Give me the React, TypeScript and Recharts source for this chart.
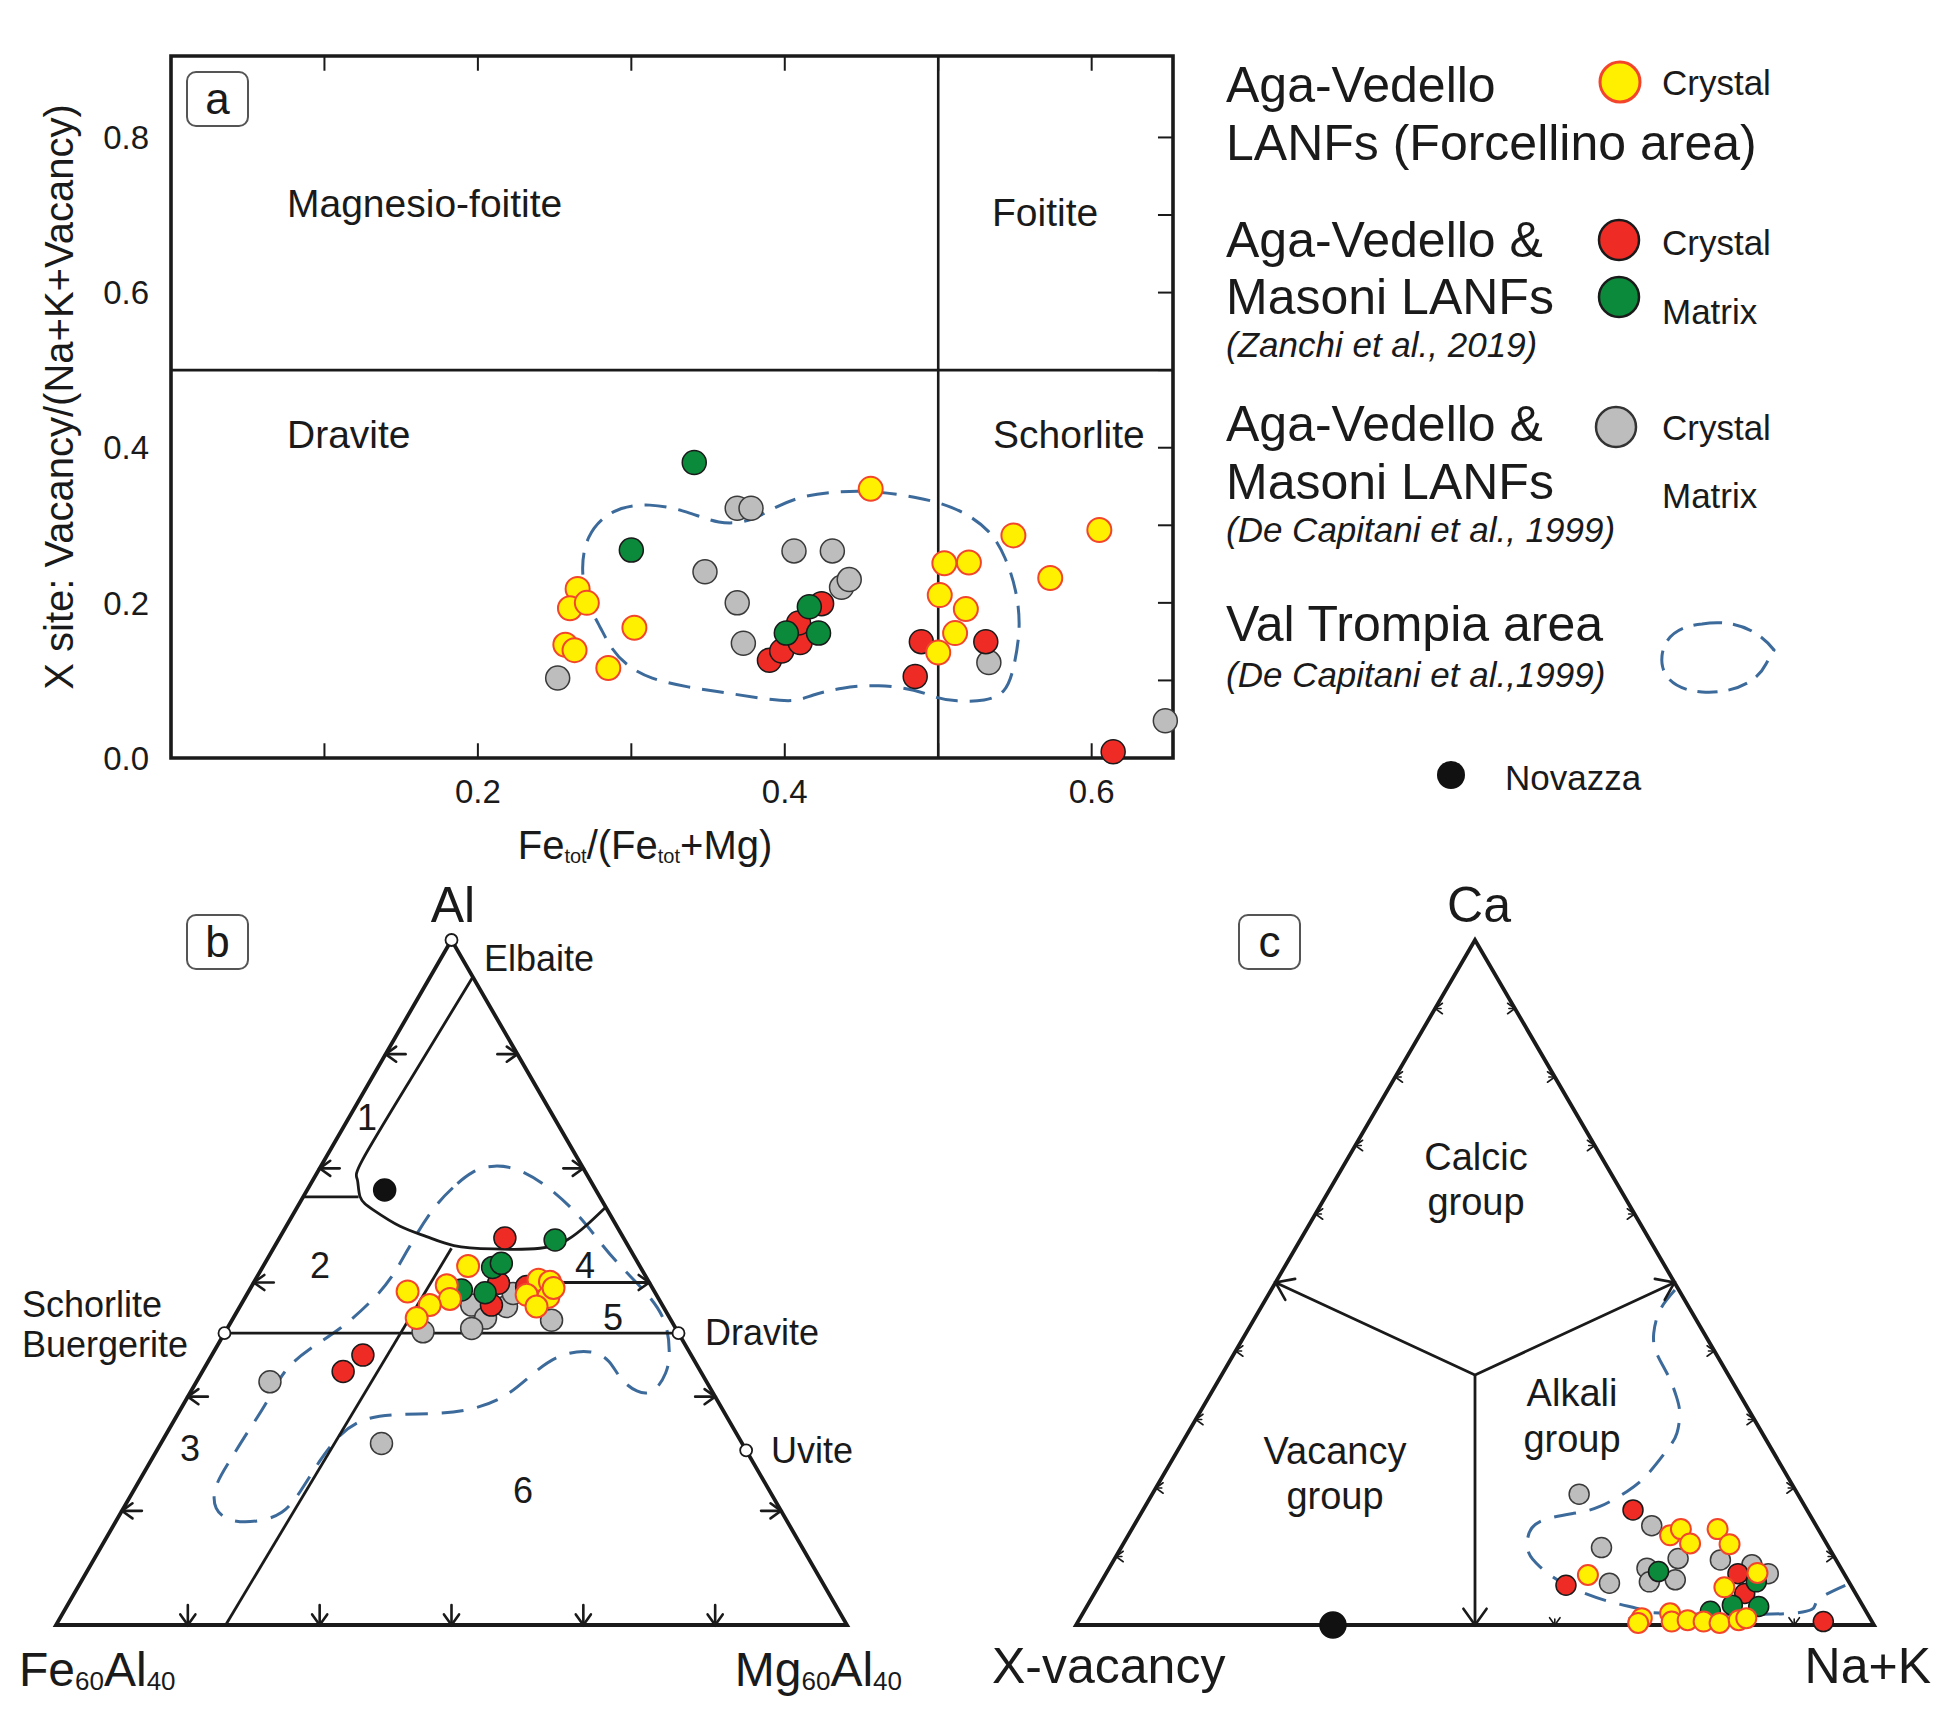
import React from 'react';
import { ComposedChart, Scatter, Line, XAxis, YAxis, ReferenceLine, ReferenceArea } from 'recharts';

const FONT = '"Liberation Sans", Arial, Helvetica, sans-serif';
const H = Math.sqrt(3) / 2;
const INK = '#1a1a1a';
const FIELD = '#3c6a9a';

const YELLOW = '#fff000';
const YELLOW_EDGE = '#f2452b';
const RED = '#ee2c25';
const GREEN = '#0c8a3b';
const GRAY = '#bdbdbd';

// ---- panel a: Fe_tot/(Fe_tot+Mg) vs X-site vacancy ----
const aXTicks = [0.2, 0.4, 0.6];
const aYTicks = [0, 0.2, 0.4, 0.6, 0.8];
const aMinorX = [0.1, 0.2, 0.3, 0.4, 0.5, 0.6];
const aMinorY = [0.1, 0.2, 0.3, 0.4, 0.5, 0.6, 0.7, 0.8];

const aYellow = [
  [0.456, 0.347], [0.265, 0.218], [0.26, 0.193], [0.271, 0.2], [0.302, 0.168], [0.257, 0.146],
  [0.263, 0.139], [0.285, 0.116], [0.504, 0.251], [0.52, 0.252], [0.501, 0.21], [0.518, 0.192],
  [0.511, 0.161], [0.5, 0.136], [0.549, 0.287], [0.573, 0.232], [0.605, 0.294],
];
const aRed = [
  [0.39, 0.126], [0.398, 0.138], [0.41, 0.149], [0.409, 0.174], [0.424, 0.199],
  [0.489, 0.15], [0.485, 0.105], [0.531, 0.15], [0.614, 0.008],
];
const aGreen = [[0.341, 0.381], [0.3, 0.268], [0.416, 0.195], [0.401, 0.161], [0.422, 0.161]];
const aGray = [
  [0.369, 0.322], [0.378, 0.322], [0.406, 0.267], [0.431, 0.267], [0.348, 0.24], [0.369, 0.2],
  [0.373, 0.148], [0.437, 0.22], [0.442, 0.23], [0.252, 0.103], [0.533, 0.123], [0.648, 0.048],
];
const aField = [
  [0.267, 0.238], [0.27, 0.287], [0.287, 0.322], [0.312, 0.329], [0.337, 0.318], [0.357, 0.301],
  [0.377, 0.304], [0.392, 0.322], [0.412, 0.339], [0.437, 0.344], [0.461, 0.344], [0.486, 0.336],
  [0.501, 0.329], [0.516, 0.318], [0.534, 0.294], [0.544, 0.259], [0.551, 0.217], [0.554, 0.168],
  [0.549, 0.112], [0.544, 0.084], [0.531, 0.073], [0.511, 0.073], [0.499, 0.077], [0.486, 0.088],
  [0.461, 0.095], [0.437, 0.091], [0.417, 0.081], [0.407, 0.072], [0.387, 0.076], [0.362, 0.084],
  [0.337, 0.091], [0.312, 0.102], [0.297, 0.119], [0.287, 0.14], [0.28, 0.168], [0.272, 0.196],
];

// ---- panel b: Al - Fe60Al40 - Mg60Al40, values as [Al, Mg] fractions ----
const bTickFr = [1 / 6, 2 / 6, 3 / 6, 4 / 6, 5 / 6];
const bTriangle = [[1, 0], [0, 0], [0, 1]];
const bCurve1 = [
  [0.946, 0.054], [0.796, 0.05], [0.679, 0.048], [0.65, 0.056], [0.625, 0.072], [0.606, 0.098],
  [0.582, 0.144], [0.567, 0.185], [0.554, 0.226], [0.549, 0.278], [0.55, 0.337], [0.562, 0.365],
  [0.584, 0.379], [0.61, 0.39],
];
const bStub = [[0.625, 0], [0.625, 0.07]];
const bInner = [[0.55, 0.225], [0, 0.2145]];
const bSchorlDravite = [[0.426, 0], [0.426, 0.574]];
const bLine45 = [[0.5, 0.387], [0.5, 0.5]];
const bEndMembers = [[1, 0], [0.426, 0], [0.426, 0.574], [0.255, 0.745]];
const bYellow = [
  [0.524, 0.259], [0.487, 0.201], [0.496, 0.246], [0.476, 0.26], [0.467, 0.239], [0.448, 0.232],
  [0.504, 0.358], [0.501, 0.374], [0.482, 0.354], [0.479, 0.383], [0.465, 0.375], [0.492, 0.383],
];
const bRed = [[0.565, 0.285], [0.499, 0.31], [0.467, 0.317], [0.494, 0.348], [0.394, 0.191], [0.37, 0.178]];
const bGreen = [[0.562, 0.35], [0.522, 0.291], [0.528, 0.299], [0.489, 0.268], [0.485, 0.3]];
const bGray = [
  [0.467, 0.292], [0.448, 0.319], [0.433, 0.309], [0.428, 0.25], [0.465, 0.337], [0.484, 0.336],
  [0.445, 0.404], [0.265, 0.279], [0.355, 0.093],
];
const bNovazza = [[0.635, 0.098]];
const bField = [
  [0.664, 0.195], [0.639, 0.182], [0.61, 0.172], [0.562, 0.17], [0.508, 0.172], [0.475, 0.164],
  [0.431, 0.144], [0.402, 0.117], [0.372, 0.101], [0.324, 0.105], [0.28, 0.101], [0.241, 0.1],
  [0.202, 0.098], [0.168, 0.115], [0.15, 0.145], [0.15, 0.179], [0.161, 0.207], [0.193, 0.212],
  [0.241, 0.213], [0.28, 0.219], [0.302, 0.237], [0.308, 0.272], [0.308, 0.332], [0.314, 0.37],
  [0.333, 0.404], [0.368, 0.419], [0.397, 0.439], [0.402, 0.478], [0.387, 0.507], [0.358, 0.534],
  [0.339, 0.565], [0.336, 0.587], [0.368, 0.589], [0.397, 0.578], [0.445, 0.55], [0.485, 0.505],
  [0.523, 0.452], [0.558, 0.409], [0.596, 0.365], [0.635, 0.311], [0.667, 0.253], [0.672, 0.217],
];

// ---- panel c: Ca - X-vacancy - Na+K, values as [Ca, Na+K] fractions ----
const cTickFr = [0.1, 0.2, 0.3, 0.4, 0.6, 0.7, 0.8, 0.9];
const cBaseTickFr = [0.6, 0.7, 0.8, 0.9];
const cTriangle = [[1, 0], [0, 0], [0, 1]];
const cCenter = [0.365, 0.3175];
const cDividers = [[0.5, 0], [0.365, 0.3175], [0.5, 0.5]];
const cStem = [[0.365, 0.3175], [0, 0.5]];
const cArrowTips = [[0.5, 0], [0.5, 0.5], [0, 0.5]];
const cYellow = [
  [0.131, 0.679], [0.14, 0.688], [0.119, 0.71], [0.14, 0.734], [0.118, 0.76], [0.076, 0.816],
  [0.055, 0.785], [0.073, 0.605], [0.01, 0.704], [0.003, 0.703], [0.017, 0.736], [0.005, 0.744],
  [0.007, 0.763], [0.005, 0.784], [0.003, 0.805], [0.007, 0.827], [0.01, 0.835],
];
const cRed = [[0.168, 0.614], [0.075, 0.792], [0.046, 0.815], [0.058, 0.585], [0.005, 0.934]];
const cGreen = [[0.078, 0.691], [0.063, 0.821], [0.02, 0.785], [0.029, 0.808], [0.027, 0.842]];
const cGray = [
  [0.191, 0.535], [0.145, 0.649], [0.113, 0.602], [0.097, 0.706], [0.083, 0.674], [0.063, 0.687],
  [0.066, 0.718], [0.095, 0.76], [0.088, 0.803], [0.075, 0.83], [0.061, 0.638],
];
const cNovazza = [[0, 0.322]];
const cField = [
  [0.489, 0.506], [0.46, 0.502], [0.426, 0.511], [0.397, 0.529], [0.363, 0.561], [0.333, 0.586],
  [0.309, 0.602], [0.28, 0.613], [0.256, 0.613], [0.219, 0.606], [0.195, 0.593], [0.173, 0.57],
  [0.163, 0.542], [0.151, 0.506], [0.129, 0.502], [0.105, 0.515], [0.085, 0.539], [0.058, 0.586],
  [0.034, 0.652], [0.023, 0.695], [0.017, 0.732], [0.017, 0.886], [0.034, 0.911], [0.058, 0.935],
];

const pts = (arr: number[][]) => arr.map(([x, y]) => ({ x, y }));
const tern = (a: number, m: number) => ({ x: m + a / 2, y: a * H });
const tpts = (arr: number[][]) => arr.map(([a, m]) => tern(a, m));

const dot = (fill: string, stroke: string, r: number, sw = 1.5) => (p: any) => (
  <circle cx={p.cx} cy={p.cy} r={r} fill={fill} stroke={stroke} strokeWidth={sw} />
);

// arrow tick: tip on the point, pointing along payload.ang (screen radians)
const arrow = (stub: number, wing: number, sw: number) => (p: any) => {
  const ang = p.payload.ang;
  const bx = -Math.cos(ang);
  const by = -Math.sin(ang);
  const rot = (t: number) => [bx * Math.cos(t) - by * Math.sin(t), bx * Math.sin(t) + by * Math.cos(t)];
  const [w1x, w1y] = rot(0.62);
  const [w2x, w2y] = rot(-0.62);
  return (
    <g stroke={INK} strokeWidth={sw} fill="none" strokeLinecap="round">
      {stub > 0 && <line x1={p.cx} y1={p.cy} x2={p.cx + bx * stub} y2={p.cy + by * stub} />}
      <polyline points={`${p.cx + w1x * wing},${p.cy + w1y * wing} ${p.cx},${p.cy} ${p.cx + w2x * wing},${p.cy + w2y * wing}`} />
    </g>
  );
};

const edgeTicks = (fr: number[], base: number[]) => [
  ...fr.map((t) => ({ ...tern(t, 0), ang: Math.PI })),
  ...fr.map((t) => ({ ...tern(t, 1 - t), ang: 0 })),
  ...base.map((t) => ({ ...tern(0, t), ang: Math.PI / 2 })),
];

const cArrowPts = cArrowTips.map(([a, m]) => {
  const t = tern(a, m);
  const c = tern(cCenter[0], cCenter[1]);
  return { ...t, ang: Math.atan2(-(t.y - c.y), t.x - c.x) };
});

const lineProps = { dot: false, activeDot: false, isAnimationActive: false, dataKey: 'y', legendType: 'none' as const };

function PanelA() {
  const tx = 0.0098;
  const ty = 0.019;
  return (
    <ComposedChart width={1200} height={880} margin={{ top: 56, right: 27, left: 111, bottom: 92 }}>
      <XAxis type="number" dataKey="x" domain={[0, 0.653]} ticks={aXTicks} height={30} axisLine={false} tickLine={false}
        tickSize={0} tickMargin={22} tick={{ fontSize: 33, fill: INK, fontFamily: FONT }} />
      <YAxis type="number" dataKey="y" domain={[0, 0.905]} ticks={aYTicks} width={60} axisLine={false} tickLine={false}
        tickSize={0} tickMargin={22} tick={{ fontSize: 33, fill: INK, fontFamily: FONT }} tickFormatter={(v) => v.toFixed(1)} />
      <ReferenceArea x1={0} x2={0.653} y1={0} y2={0.905} fill="none" stroke={INK} strokeWidth={3.6} fillOpacity={0} />
      <ReferenceLine x={0.5} stroke={INK} strokeWidth={2.6} />
      <ReferenceLine y={0.5} stroke={INK} strokeWidth={2.6} />
      {aMinorX.map((t) => (
        <ReferenceLine key={'xb' + t} segment={[{ x: t, y: 0 }, { x: t, y: ty }]} stroke={INK} strokeWidth={2} />
      ))}
      {aMinorX.map((t) => (
        <ReferenceLine key={'xt' + t} segment={[{ x: t, y: 0.905 }, { x: t, y: 0.905 - ty }]} stroke={INK} strokeWidth={2} />
      ))}
      {aMinorY.map((t) => (
        <ReferenceLine key={'yr' + t} segment={[{ x: 0.653 - tx, y: t }, { x: 0.653, y: t }]} stroke={INK} strokeWidth={2} />
      ))}
      <Line data={pts(aField)} type="basisClosed" stroke={FIELD} strokeWidth={3} strokeDasharray="22 12" {...lineProps} />
      <Scatter data={pts(aGray)} shape={dot(GRAY, '#3a3a3a', 12)} isAnimationActive={false} />
      <Scatter data={pts(aRed)} shape={dot(RED, '#1a1a1a', 12)} isAnimationActive={false} />
      <Scatter data={pts(aGreen)} shape={dot(GREEN, '#1a1a1a', 12)} isAnimationActive={false} />
      <Scatter data={pts(aYellow)} shape={dot(YELLOW, YELLOW_EDGE, 12, 2)} isAnimationActive={false} />
    </ComposedChart>
  );
}

function PanelB() {
  return (
    <ComposedChart width={960} height={877} margin={{ top: 90, right: 113, left: 56, bottom: 102 }}>
      <XAxis type="number" dataKey="x" domain={[0, 1]} hide />
      <YAxis type="number" dataKey="y" domain={[0, H]} hide />
      <Line data={tpts(bField)} type="basisClosed" stroke={FIELD} strokeWidth={3} strokeDasharray="22 14" {...lineProps} />
      <Line data={tpts(bTriangle)} type="linearClosed" stroke={INK} strokeWidth={3.8} {...lineProps} />
      <Line data={tpts(bCurve1)} type="natural" stroke={INK} strokeWidth={2.8} {...lineProps} />
      <Line data={tpts(bStub)} type="linear" stroke={INK} strokeWidth={2.8} {...lineProps} />
      <Line data={tpts(bInner)} type="linear" stroke={INK} strokeWidth={2.8} {...lineProps} />
      <Line data={tpts(bSchorlDravite)} type="linear" stroke={INK} strokeWidth={2.8} {...lineProps} />
      <Line data={tpts(bLine45)} type="linear" stroke={INK} strokeWidth={2.8} {...lineProps} />
      <Scatter data={edgeTicks(bTickFr, bTickFr)} shape={arrow(20, 13, 2.6)} isAnimationActive={false} />
      <Scatter data={tpts(bGray)} shape={dot(GRAY, '#3a3a3a', 11)} isAnimationActive={false} />
      <Scatter data={tpts(bRed)} shape={dot(RED, '#1a1a1a', 11)} isAnimationActive={false} />
      <Scatter data={tpts(bGreen)} shape={dot(GREEN, '#1a1a1a', 11)} isAnimationActive={false} />
      <Scatter data={tpts(bYellow)} shape={dot(YELLOW, YELLOW_EDGE, 11, 2)} isAnimationActive={false} />
      <Scatter data={tpts(bNovazza)} shape={dot('#111', '#111', 11)} isAnimationActive={false} />
      <Scatter data={tpts(bEndMembers)} shape={dot('#fff', INK, 6, 1.8)} isAnimationActive={false} />
    </ComposedChart>
  );
}

function PanelC() {
  return (
    <ComposedChart width={977} height={877} margin={{ top: 90, right: 83, left: 96, bottom: 102 }}>
      <XAxis type="number" dataKey="x" domain={[0, 1]} hide />
      <YAxis type="number" dataKey="y" domain={[0, H]} hide />
      <Line data={tpts(cField)} type="natural" stroke={FIELD} strokeWidth={3} strokeDasharray="22 14" {...lineProps} />
      <Line data={tpts(cTriangle)} type="linearClosed" stroke={INK} strokeWidth={3.8} {...lineProps} />
      <Line data={tpts(cDividers)} type="linear" stroke={INK} strokeWidth={2.8} {...lineProps} />
      <Line data={tpts(cStem)} type="linear" stroke={INK} strokeWidth={2.8} {...lineProps} />
      <Scatter data={edgeTicks(cTickFr, cBaseTickFr)} shape={arrow(6, 9, 1.6)} isAnimationActive={false} />
      <Scatter data={cArrowPts} shape={arrow(0, 20, 2.6)} isAnimationActive={false} />
      <Scatter data={tpts(cGray)} shape={dot(GRAY, '#3a3a3a', 10)} isAnimationActive={false} />
      <Scatter data={tpts(cRed)} shape={dot(RED, '#1a1a1a', 10)} isAnimationActive={false} />
      <Scatter data={tpts(cGreen)} shape={dot(GREEN, '#1a1a1a', 10)} isAnimationActive={false} />
      <Scatter data={tpts(cYellow)} shape={dot(YELLOW, YELLOW_EDGE, 10, 2)} isAnimationActive={false} />
      <Scatter data={tpts(cNovazza)} shape={dot('#111', '#111', 13)} isAnimationActive={false} />
    </ComposedChart>
  );
}

function T({ x, y, size = 36, anchor = 'start', italic = false, children }: any) {
  return (
    <text x={x} y={y} fontSize={size} textAnchor={anchor} dominantBaseline="central" fill={INK}
      fontFamily={FONT} fontStyle={italic ? 'italic' : 'normal'}>
      {children}
    </text>
  );
}

function Tag({ x, y, label }: any) {
  return (
    <g>
      <rect x={x} y={y} width={61} height={54} rx={9} fill="#fff" stroke="#555" strokeWidth={2} />
      <T x={x + 30.5} y={y + 26} size={44} anchor="middle">{label}</T>
    </g>
  );
}

function Overlay() {
  return (
    <svg width={1957} height={1727} style={{ position: 'absolute', left: 0, top: 0, pointerEvents: 'none' }}>
      {/* panel a titles */}
      <text x={59} y={397} fontSize={40} textAnchor="middle" dominantBaseline="central" fill={INK} fontFamily={FONT}
        transform="rotate(-90 59 397)">X site: Vacancy/(Na+K+Vacancy)</text>
      <text x={645} y={845} fontSize={40} textAnchor="middle" dominantBaseline="central" fill={INK} fontFamily={FONT}>
        Fe<tspan fontSize={20} dy={11}>tot</tspan><tspan dy={-11}>/(Fe</tspan><tspan fontSize={20} dy={11}>tot</tspan>
        <tspan dy={-11}>+Mg)</tspan>
      </text>
      <Tag x={187} y={72} label="a" />
      <T x={287} y={203} size={39}>Magnesio-foitite</T>
      <T x={992} y={212} size={39}>Foitite</T>
      <T x={287} y={434} size={39}>Dravite</T>
      <T x={993} y={434} size={39}>Schorlite</T>

      {/* legend */}
      <T x={1226} y={85} size={50}>Aga-Vedello</T>
      <T x={1226} y={143} size={50}>LANFs (Forcellino area)</T>
      <circle cx={1620} cy={82} r={20} fill={YELLOW} stroke={YELLOW_EDGE} strokeWidth={3} />
      <T x={1662} y={82} size={35}>Crystal</T>

      <T x={1226} y={240} size={50}>Aga-Vedello &amp;</T>
      <T x={1226} y={297} size={50}>Masoni LANFs</T>
      <T x={1226} y={344} size={35} italic>(Zanchi et al., 2019)</T>
      <circle cx={1619} cy={240} r={20} fill={RED} stroke="#1a1a1a" strokeWidth={2.5} />
      <T x={1662} y={242} size={35}>Crystal</T>
      <circle cx={1619} cy={297} r={20} fill={GREEN} stroke="#1a1a1a" strokeWidth={2.5} />
      <T x={1662} y={311} size={35}>Matrix</T>

      <T x={1226} y={424} size={50}>Aga-Vedello &amp;</T>
      <T x={1226} y={482} size={50}>Masoni LANFs</T>
      <T x={1226} y={529} size={35} italic>(De Capitani et al., 1999)</T>
      <circle cx={1616} cy={427} r={20} fill={GRAY} stroke="#333" strokeWidth={2.5} />
      <T x={1662} y={427} size={35}>Crystal</T>
      <T x={1662} y={495} size={35}>Matrix</T>

      <T x={1226} y={624} size={50}>Val Trompia area</T>
      <T x={1226} y={674} size={35} italic>(De Capitani et al.,1999)</T>
      <path d="M1702 624 C1738 618 1762 634 1774 650 L1766 664 C1756 684 1730 694 1702 692 C1674 690 1660 676 1662 656 C1664 636 1680 626 1702 624 Z"
        fill="none" stroke={FIELD} strokeWidth={3} strokeDasharray="20 11" />

      <circle cx={1451} cy={775} r={14} fill="#111" />
      <T x={1505} y={777} size={35}>Novazza</T>

      {/* panel b labels */}
      <Tag x={187} y={915} label="b" />
      <T x={453} y={905} size={50} anchor="middle">Al</T>
      <T x={484} y={958} size={36}>Elbaite</T>
      <T x={22} y={1304} size={36}>Schorlite</T>
      <T x={22} y={1344} size={36}>Buergerite</T>
      <T x={705} y={1332} size={36}>Dravite</T>
      <T x={771} y={1450} size={36}>Uvite</T>
      <T x={367} y={1117} size={36} anchor="middle">1</T>
      <T x={320} y={1265} size={36} anchor="middle">2</T>
      <T x={190} y={1448} size={36} anchor="middle">3</T>
      <T x={585} y={1265} size={36} anchor="middle">4</T>
      <T x={613} y={1317} size={36} anchor="middle">5</T>
      <T x={523} y={1490} size={36} anchor="middle">6</T>
      <text x={19} y={1669} fontSize={48} dominantBaseline="central" fill={INK} fontFamily={FONT}>
        Fe<tspan fontSize={26} dy={12}>60</tspan><tspan dy={-12}>Al</tspan><tspan fontSize={26} dy={12}>40</tspan>
      </text>
      <text x={902} y={1669} fontSize={48} textAnchor="end" dominantBaseline="central" fill={INK} fontFamily={FONT}>
        Mg<tspan fontSize={26} dy={12}>60</tspan><tspan dy={-12}>Al</tspan><tspan fontSize={26} dy={12}>40</tspan>
      </text>

      {/* panel c labels */}
      <Tag x={1239} y={915} label="c" />
      <T x={1479} y={905} size={50} anchor="middle">Ca</T>
      <T x={992} y={1666} size={50}>X-vacancy</T>
      <T x={1931} y={1666} size={50} anchor="end">Na+K</T>
      <T x={1476} y={1157} size={38} anchor="middle">Calcic</T>
      <T x={1476} y={1202} size={38} anchor="middle">group</T>
      <T x={1572} y={1393} size={38} anchor="middle">Alkali</T>
      <T x={1572} y={1439} size={38} anchor="middle">group</T>
      <T x={1335} y={1451} size={38} anchor="middle">Vacancy</T>
      <T x={1335} y={1496} size={38} anchor="middle">group</T>
    </svg>
  );
}

export default function App() {
  return (
    <div style={{ position: 'absolute', left: 0, top: 0, width: 1957, height: 1727, background: '#fff', fontFamily: FONT }}>
      <div style={{ position: 'absolute', left: 0, top: 0 }}>
        <PanelA />
      </div>
      <div style={{ position: 'absolute', left: 0, top: 850 }}>
        <PanelB />
      </div>
      <div style={{ position: 'absolute', left: 980, top: 850 }}>
        <PanelC />
      </div>
      <Overlay />
    </div>
  );
}
